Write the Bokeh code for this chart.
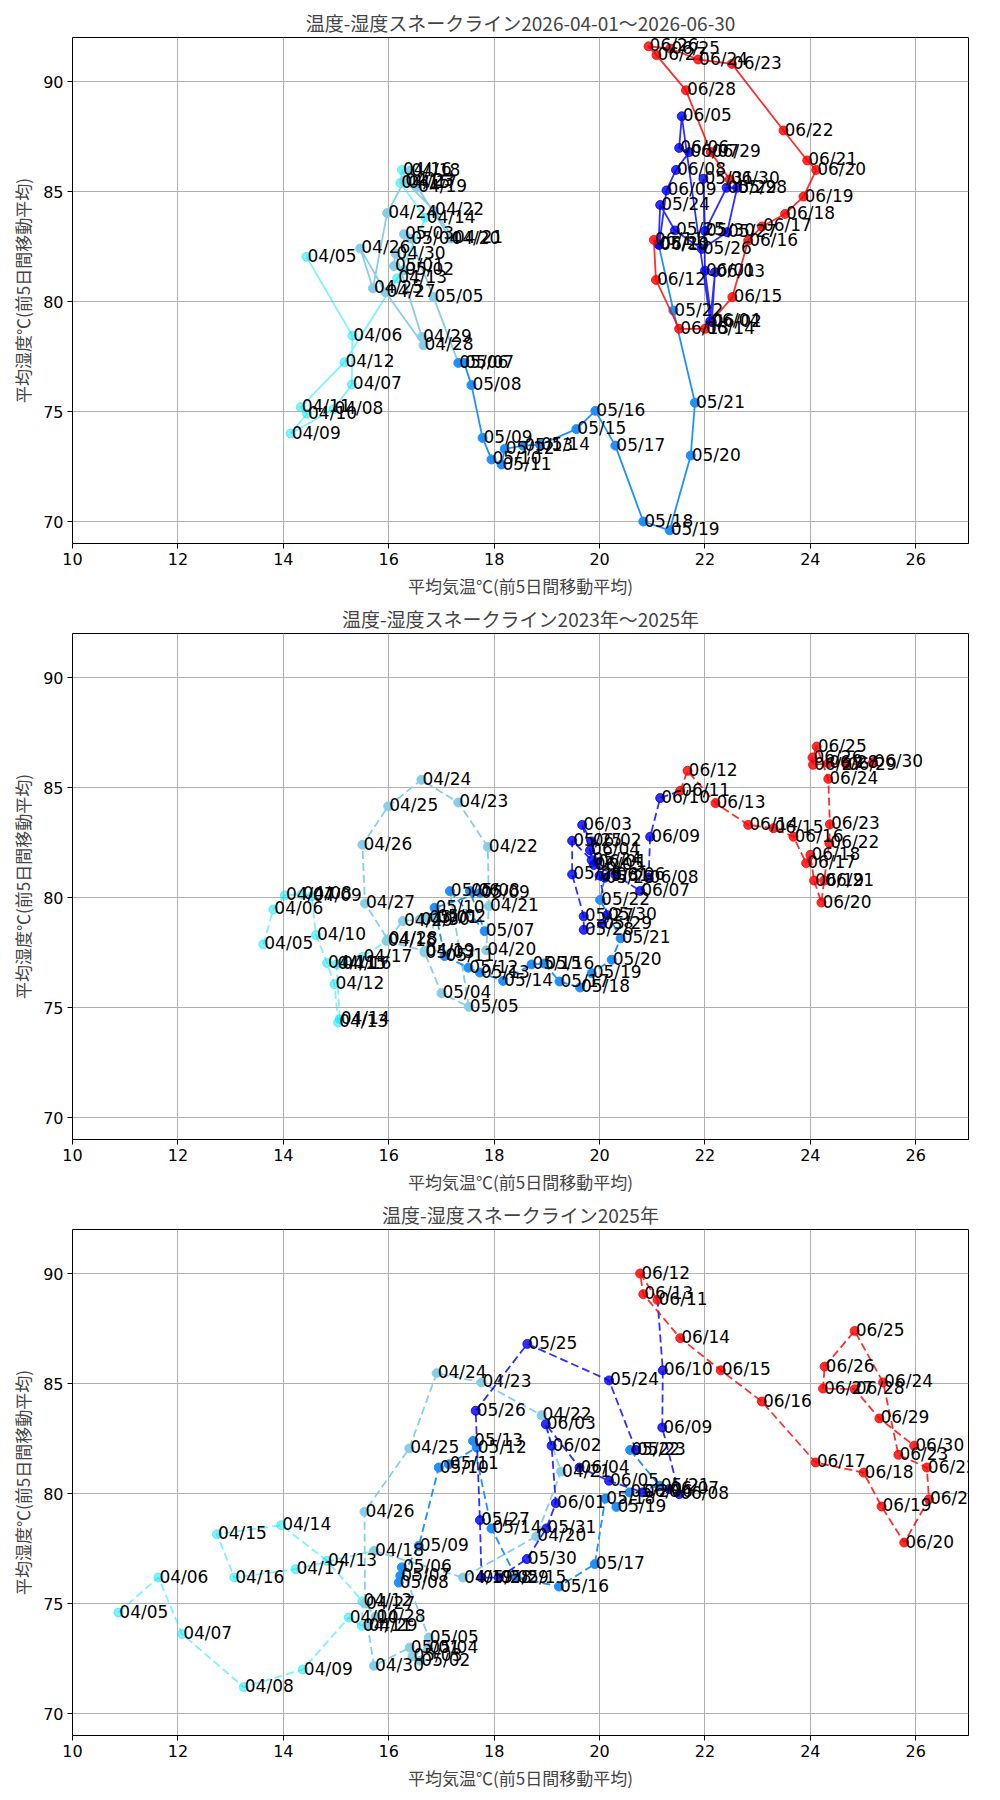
import pandas as pd
from bokeh.plotting import figure
from bokeh.layouts import column
from bokeh.models import Range1d, FixedTicker, ColumnDataSource
from bokeh.core.properties import value
from bokeh.embed import file_html
from bokeh.resources import INLINE

# day labels 04/05 .. 06/30 (first valid day of the 5-day moving average)
dates = list(pd.date_range("2026-04-05", "2026-06-30").strftime("%m/%d"))

titles = ["温度-湿度スネークライン2026-04-01～2026-06-30",
          "温度-湿度スネークライン2023年～2025年",
          "温度-湿度スネークライン2025年"]
x_label = "平均気温℃(前5日間移動平均)"
y_label = "平均湿度℃(前5日間移動平均)"
x_ticks = [10, 12, 14, 16, 18, 20, 22, 24, 26]
y_ticks = [70, 75, 80, 85, 90]

temp_2026 = [14.44, 15.31, 15.30, 14.95, 14.14, 14.45, 14.33, 15.16, 16.16, 16.70,
             16.22, 16.25, 16.35, 16.41, 16.54, 17.17, 17.22, 16.86, 16.30, 15.97,
             15.70, 15.46, 15.94, 16.66, 16.63, 16.13,
             16.10, 16.29, 16.29, 16.41, 16.85, 17.32, 17.43, 17.57, 17.78, 17.95,
             18.14, 18.20, 18.55, 18.87, 19.56, 19.92, 20.30, 20.83, 21.33, 21.73,
             21.81, 21.40, 21.12, 21.15, 21.43, 21.94, 22.42, 22.61, 22.41, 22.00,
             21.97,
             22.00, 22.13, 22.19, 22.10, 21.56, 21.51, 21.70, 21.45, 21.27, 21.13,
             21.03, 21.07, 21.51, 22.00, 22.52, 22.82, 23.08, 23.52, 23.87, 24.11,
             23.94, 23.49, 22.51, 21.87, 21.34, 20.93, 21.08, 21.64, 22.11, 22.47]
hum_2026 = [82.03, 78.45, 76.23, 75.10, 74.00, 74.90, 75.20, 77.24, 81.05, 83.81,
            85.39, 85.98, 85.40, 85.95, 85.20, 82.86, 82.90, 84.14, 85.50, 84.02,
            80.60, 82.41, 80.42, 78.01, 78.39, 82.18,
            81.61, 81.43, 83.06, 82.86, 80.20, 77.21, 77.21, 76.20, 73.80, 72.82,
            72.59, 73.30, 73.45, 73.49, 74.20, 75.03, 73.45, 70.00, 69.60, 73.00,
            75.40, 79.59, 82.60, 84.39, 83.23, 82.39, 83.15, 85.17, 85.17, 83.20,
            85.58,
            81.40, 79.06, 81.33, 79.10, 88.42, 86.98, 86.79, 85.98, 85.05, 82.57,
            82.80, 80.98, 78.76, 78.76, 80.20, 82.77, 83.41, 83.98, 84.77, 85.98,
            86.41, 87.77, 90.80, 91.00, 91.50, 91.60, 91.20, 89.60, 86.79, 85.55]

temp_3yr = [13.62, 13.81, 14.03, 14.35, 14.54, 14.62, 14.83, 14.97, 15.04, 15.07,
            15.01, 15.10, 15.50, 15.96, 16.68, 17.85, 17.90, 17.88, 17.32, 16.62,
            15.99, 15.50, 15.55, 15.98, 16.27, 16.59,
            16.75, 16.90, 16.68, 17.00, 17.52, 17.16, 17.82, 17.54, 17.73, 16.87,
            17.06, 17.51, 17.73, 18.17, 18.71, 18.95, 19.24, 19.63, 19.85, 20.23,
            20.40, 20.01, 20.10, 19.85, 19.48, 19.48, 19.70, 19.70, 20.05, 20.14,
            20.00,
            19.95, 19.85, 19.67, 19.82, 19.89, 20.30, 20.77, 20.93, 20.96, 21.15,
            21.53, 21.67, 22.20, 22.82, 23.30, 23.68, 23.92, 24.00, 24.07, 24.21,
            24.26, 24.36, 24.37, 24.34, 24.12, 24.04, 24.05, 24.34, 24.69, 25.19]
hum_3yr = [77.87, 79.46, 80.10, 80.14, 80.06, 78.29, 77.02, 76.06, 74.32, 74.47,
           76.96, 77.00, 77.30, 78.02, 77.57, 77.60, 79.61, 82.30, 84.32, 85.35,
           84.14, 82.40, 79.73, 78.10, 78.93, 79.00,
           79.08, 79.10, 77.50, 75.65, 75.03, 80.29, 78.47, 80.29, 80.20, 79.53,
           77.34, 76.81, 76.59, 76.21, 76.96, 77.00, 76.18, 75.91, 76.56, 77.17,
           78.15, 79.89, 80.90, 81.70, 82.58, 81.05, 79.14, 78.53, 78.80, 79.20,
           81.00,
           81.60, 82.55, 83.30, 82.15, 81.48, 81.03, 80.30, 80.90, 82.76, 84.52,
           84.85, 85.76, 84.29, 83.30, 83.15, 82.76, 81.56, 81.94, 80.77, 79.77,
           80.77, 82.47, 83.33, 85.39, 86.86, 86.36, 86.03, 86.10, 86.03, 86.15]

temp_2025 = [10.87, 11.63, 12.08, 13.25, 14.37, 15.24, 15.49, 15.50, 14.83, 13.96,
             12.74, 13.07, 14.23, 15.72, 17.41, 18.80, 19.27, 18.90, 17.76, 16.91,
             16.39, 15.54, 15.55, 15.75, 15.60, 15.72,
             16.40, 16.60, 16.45, 16.75, 16.76, 16.25, 16.22, 16.19, 16.57, 16.95,
             17.14, 17.67, 17.60, 17.95, 18.42, 19.23, 19.91, 20.11, 20.32, 20.57,
             21.14, 20.58, 20.69, 20.18, 18.63, 17.65, 17.73, 17.76, 18.09, 18.62,
             18.99,
             19.17, 19.09, 18.98, 19.62, 20.18, 20.82, 21.32, 21.51, 21.19, 21.20,
             21.10, 20.77, 20.83, 21.53, 22.30, 23.08, 24.10, 25.01, 25.35, 25.78,
             26.25, 26.21, 25.67, 25.38, 24.84, 24.27, 24.24, 24.84, 25.31, 25.97]
hum_2025 = [74.59, 76.18, 73.61, 71.20, 72.00, 74.36, 73.98, 75.10, 76.94, 78.56,
            78.15, 76.18, 76.56, 77.39, 76.18, 78.05, 81.00, 83.56, 85.05, 85.47,
            82.05, 79.17, 75.00, 74.40, 74.00, 72.17,
            73.00, 72.40, 72.60, 73.00, 73.45, 76.64, 76.26, 75.95, 77.62, 81.18,
            81.33, 82.09, 82.39, 78.41, 76.18, 75.77, 76.79, 79.77, 79.39, 80.05,
            80.35, 81.98, 81.98, 85.14, 86.80, 83.76, 78.79, 76.18, 76.18, 77.02,
            78.41,
            79.56, 82.17, 83.15, 81.18, 80.58, 80.05, 80.20, 79.97, 83.00, 85.60,
            88.80, 90.00, 89.06, 87.06, 85.60, 84.18, 81.41, 80.95, 79.41, 77.77,
            79.74, 81.18, 81.76, 85.05, 87.39, 85.77, 84.77, 84.74, 83.41, 82.17]

# colour periods (first day of each period)
period_starts = ["04/05", "04/18", "05/06", "05/23", "06/11"]
period_colors = ["#00E5FF", "#87CEEB", "#1E90FF", "#0000FF", "#FF0000"]
period_alphas = [0.5, 1.0, 1.0, 0.82, 0.82]

JP = "Noto Sans CJK JP"
LAT = "DejaVu Sans"


def panel(title, temps, hums, dash, top, bottom):
    p = figure(frame_width=896, frame_height=506,
               x_range=Range1d(10, 27), y_range=Range1d(69, 92),
               output_backend="svg", toolbar_location=None, title=title,
               min_border_left=72, min_border_right=16,
               min_border_top=top, min_border_bottom=bottom)
    p.title.align = "center"
    p.title.text_font = JP
    p.title.text_font_size = "19px"
    p.title.text_font_style = "normal"
    p.title.standoff = 4
    p.outline_line_color = "black"
    p.outline_line_alpha = 1.0
    p.outline_line_width = 1
    p.background_fill_color = "white"
    p.border_fill_color = "white"
    for ax, ticks, lab in ((p.xaxis, x_ticks, x_label), (p.yaxis, y_ticks, y_label)):
        ax.ticker = FixedTicker(ticks=ticks)
        ax.axis_label = lab
        ax.axis_label_text_font = JP
        ax.axis_label_text_font_size = "17px"
        ax.axis_label_text_font_style = "normal"
        ax.axis_label_standoff = 5
        ax.major_label_text_font = LAT
        ax.major_label_text_font_size = "16px"
        ax.major_label_text_color = "black"
        ax.major_tick_in = 0
        ax.major_tick_out = 5
        ax.major_tick_line_color = "black"
        ax.minor_tick_line_color = None
        ax.axis_line_color = "black"
        ax.major_label_standoff = 4
    p.grid.grid_line_color = "#b0b0b0"
    p.grid.grid_line_width = 1
    p.xgrid.ticker = FixedTicker(ticks=x_ticks)
    p.ygrid.ticker = FixedTicker(ticks=y_ticks)

    n = len(dates)
    gid = [sum(d >= s for s in period_starts) - 1 for d in dates]
    for g, (c, a) in enumerate(zip(period_colors, period_alphas)):
        idx = [i for i in range(n) if gid[i] == g]
        if not idx:
            continue
        lidx = idx + ([idx[-1] + 1] if idx[-1] + 1 < n else [])
        p.line([temps[i] for i in lidx], [hums[i] for i in lidx],
               line_color=c, line_alpha=a, line_width=1.8, line_dash=dash)
        p.scatter([temps[i] for i in idx], [hums[i] for i in idx], marker="circle",
                  size=9, fill_color=c, line_color=c, fill_alpha=a, line_alpha=a)
    src = ColumnDataSource(dict(x=temps, y=hums, t=dates))
    p.text(x="x", y="y", text="t", source=src, text_font=value(LAT),
           text_font_size="17px", text_color="black", text_align="left",
           text_baseline="alphabetic", x_offset=1, y_offset=-1)
    return p


p1 = panel(titles[0], temp_2026, hum_2026, "solid", 37, 54)
p2 = panel(titles[1], temp_3yr, hum_3yr, "8 4", 30, 54)
p3 = panel(titles[2], temp_2025, hum_2025, "8 4", 30, 58)
layout = column(p1, p2, p3, spacing=0)

open("out.html", "w").write(file_html(layout, INLINE))
